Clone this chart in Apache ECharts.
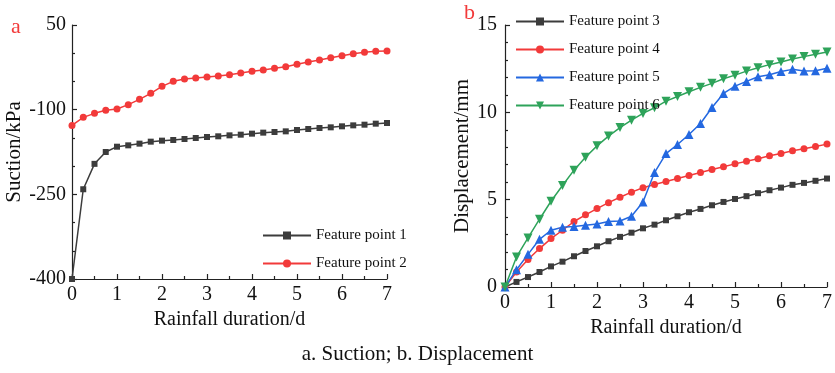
<!DOCTYPE html>
<html>
<head>
<meta charset="utf-8">
<style>
  html, body { margin: 0; padding: 0; background: #fff; }
  #chart { width: 835px; height: 373px; }
</style>
<script src="https://cdn.jsdelivr.net/npm/echarts@6/dist/echarts.min.js"></script>
</head>
<body>
<div id="chart"></div>
<script>
const days = [0, 0.25, 0.5, 0.75, 1, 1.25, 1.5, 1.75, 2, 2.25, 2.5, 2.75, 3, 3.25, 3.5, 3.75,
  4, 4.25, 4.5, 4.75, 5, 5.25, 5.5, 5.75, 6, 6.25, 6.5, 6.75, 7];

// suction (kPa)
const fp1 = [-400, -241, -196, -175, -165.6, -163.2, -160.2, -156.7, -154.9, -153.7, -152, -150.2, -148.4,
  -147.2, -145.5, -144.3, -142.5, -140.7, -139.6, -138.4, -136, -134.3, -132.5, -131.3, -129.5, -127.8,
  -126.6, -124.8, -123.6];
const fp2 = [-128, -113.6, -106.5, -101.2, -98.8, -91.1, -81.7, -71.1, -58.7, -49.8, -45.7, -43.9, -42.1,
  -40.4, -38, -35, -32, -29.7, -26.8, -23.8, -19.7, -15.6, -12, -7.9, -4.3, -0.8, 1.6, 3.3, 3.9];

// displacement (mm)
const fp3 = [0, 0.29, 0.57, 0.86, 1.18, 1.45, 1.76, 2.06, 2.33, 2.62, 2.87, 3.11, 3.36, 3.57, 3.82, 4.05,
  4.28, 4.47, 4.68, 4.87, 5.04, 5.2, 5.37, 5.54, 5.69, 5.85, 5.96, 6.08, 6.21];
const fp4 = [0, 0.86, 1.57, 2.2, 2.77, 3.25, 3.75, 4.13, 4.49, 4.83, 5.14, 5.43, 5.68, 5.87, 6.04, 6.21,
  6.38, 6.55, 6.73, 6.88, 7.05, 7.2, 7.34, 7.51, 7.64, 7.8, 7.91, 8.04, 8.18];
const fp5 = [0, 0.99, 1.87, 2.73, 3.25, 3.42, 3.46, 3.54, 3.61, 3.75, 3.78, 4.05, 4.87, 6.55, 7.64, 8.16,
  8.73, 9.36, 10.28, 11.08, 11.5, 11.77, 12.04, 12.15, 12.34, 12.46, 12.36, 12.38, 12.52];
const fp6 = [0, 1.72, 2.81, 3.88, 4.91, 5.81, 6.69, 7.43, 8.08, 8.64, 9.13, 9.55, 9.94, 10.26, 10.64, 10.91,
  11.18, 11.43, 11.66, 11.92, 12.13, 12.36, 12.55, 12.73, 12.88, 13.05, 13.19, 13.32, 13.45];

const serif = 'Liberation Serif, Times New Roman, serif';
const axisColor = '#222';
const C = { black: '#3c3c3c', red: '#f23a3a', blue: '#2468e0', green: '#2ea35a' };

const pairs = (ys) => days.map((d, i) => [d, ys[i]]);
const tick = (len) => ({ show: true, inside: true, length: len, lineStyle: { color: axisColor, width: 1.2 } });

function xAxis(gridIndex, gap) {
  return {
    type: 'value', gridIndex, min: 0, max: 7, interval: 1,
    name: 'Rainfall duration/d', nameLocation: 'middle', nameGap: gap,
    nameTextStyle: { fontFamily: serif, fontSize: 20, color: '#111' },
    axisLine: { show: true, onZero: false, lineStyle: { color: axisColor, width: 1.2 } },
    axisTick: tick(5),
    minorTick: Object.assign(tick(3), { splitNumber: 2 }),
    axisLabel: { fontFamily: serif, fontSize: 20, color: '#111', margin: 6 },
    splitLine: { show: false },
    minorSplitLine: { show: false },
  };
}

function yAxis(gridIndex, opts) {
  return Object.assign({
    type: 'value', gridIndex, nameLocation: 'middle',
    nameTextStyle: { fontFamily: serif, fontSize: 21, color: '#111' },
    axisLine: { show: true, onZero: false, lineStyle: { color: axisColor, width: 1.2 } },
    axisTick: tick(5),
    axisLabel: { fontFamily: serif, fontSize: 20, color: '#111', margin: 6 },
    splitLine: { show: false },
    minorSplitLine: { show: false },
  }, opts);
}

function line(name, data, color, symbol, size, xi, extra) {
  return Object.assign({
    name, type: 'line', xAxisIndex: xi, yAxisIndex: xi, data: pairs(data),
    symbol, symbolSize: size, smooth: false,
    lineStyle: { color, width: 1.5 }, itemStyle: { color },
  }, extra || {});
}

const legendBase = {
  orient: 'vertical', itemWidth: 48, itemHeight: 10, itemGap: 13,
  textStyle: { fontFamily: serif, fontSize: 15, color: '#111', lineHeight: 14 },
};

const chart = echarts.init(document.getElementById('chart'));
chart.setOption({
  animation: false,
  backgroundColor: '#fff',
  grid: [
    { left: 72, top: 25, width: 315, height: 254 },
    { left: 505, top: 25, width: 324, height: 262 },
  ],
  xAxis: [xAxis(0, 28), xAxis(1, 30)],
  yAxis: [
    yAxis(0, { min: -400, max: 50, interval: 150, name: 'Suction/kPa', nameGap: 46,
      minorTick: Object.assign(tick(3), { splitNumber: 3 }) }),
    yAxis(1, { min: 0, max: 15, interval: 5, name: 'Displacement/mm', nameGap: 22,
      axisLabel: { fontFamily: serif, fontSize: 20, color: '#111', margin: 8 },
      minorTick: Object.assign(tick(3), { splitNumber: 5 }) }),
  ],
  legend: [
    Object.assign({ left: 257, top: 223, data: ['Feature point 1', 'Feature point 2'] }, legendBase),
    Object.assign({ left: 510, top: 9, data: ['Feature point 3', 'Feature point 4', 'Feature point 5', 'Feature point 6'] }, legendBase),
  ],
  graphic: [
    { type: 'text', left: 11, top: 16, style: { text: 'a', fontFamily: serif, fontSize: 22, fill: '#f23a3a' } },
    { type: 'text', left: 464, top: 2, style: { text: 'b', fontFamily: serif, fontSize: 22, fill: '#f23a3a' } },
    { type: 'text', left: 'center', top: 344, style: { text: 'a. Suction; b. Displacement', fontFamily: serif, fontSize: 21, fill: '#111' } },
  ],
  series: [
    line('Feature point 1', fp1, C.black, 'rect', 6, 0),
    line('Feature point 2', fp2, C.red, 'circle', 7, 0),
    line('Feature point 3', fp3, C.black, 'rect', 6, 1),
    line('Feature point 4', fp4, C.red, 'circle', 7, 1),
    line('Feature point 5', fp5, C.blue, 'triangle', 9, 1),
    line('Feature point 6', fp6, C.green, 'triangle', 9, 1, { symbolRotate: 180 }),
  ],
});
</script>
</body>
</html>
